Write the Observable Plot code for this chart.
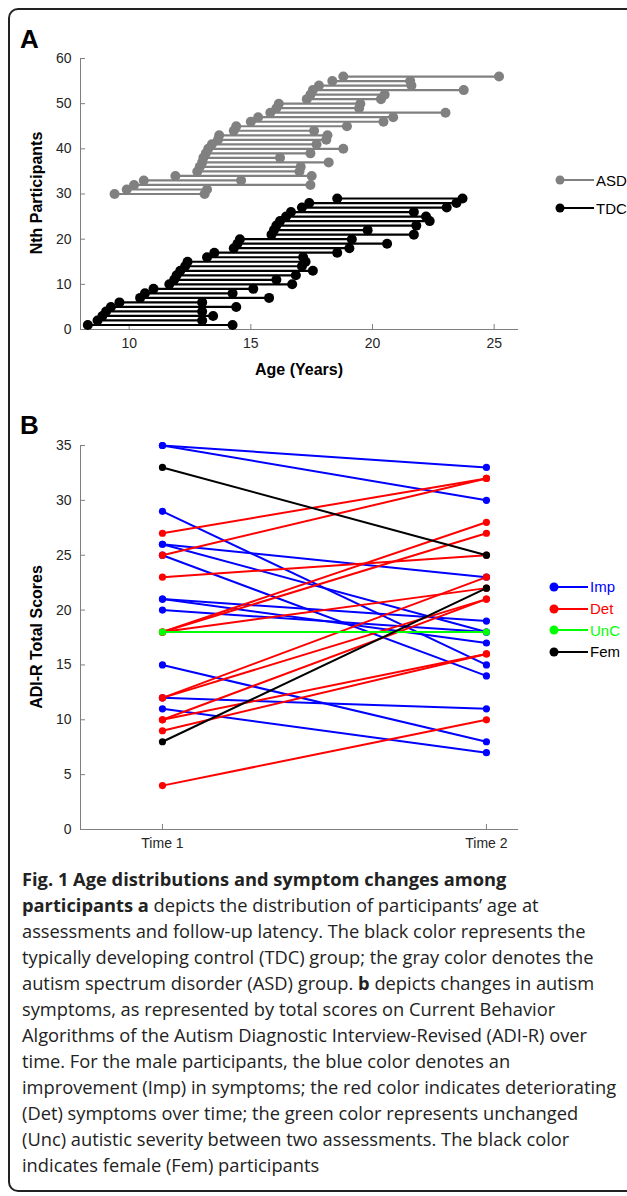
<!DOCTYPE html>
<html><head><meta charset="utf-8">
<script src="https://cdn.jsdelivr.net/npm/d3@7"></script>
<script src="https://cdn.jsdelivr.net/npm/@observablehq/plot@0.6"></script>
<style>
body{margin:0;background:#fff;}
#fig{position:relative;width:627px;height:1196px;overflow:hidden;font-family:"Liberation Sans",Arial,sans-serif;background:#fff;}
#frame{position:absolute;left:8px;top:8px;width:640px;height:1180px;border:2px solid #222;border-radius:10px;}
.panel{position:absolute;left:0;}
.plab{position:absolute;font-weight:bold;font-size:26px;color:#000;}
.alab{position:absolute;font-weight:bold;font-size:16px;color:#000;white-space:nowrap;transform:translate(-50%,-50%);}
.alab.rot{transform:translate(-50%,-50%) rotate(-90deg);}
.legend{position:absolute;font-size:15px;color:#000;}
.legend .it{display:flex;align-items:center;}
.legend svg{margin-right:2px;}
#caption{position:absolute;left:22px;top:866px;white-space:nowrap;font-family:"Open Sans",sans-serif;font-size:18.3px;line-height:26px;color:#222;}
svg text{font-family:"Liberation Sans",Arial,sans-serif;}
</style>
</head><body>
<div id="fig">
  <div id="frame"></div>
  <div class="plab" style="left:20px;top:24px;">A</div>
  <div class="plab" style="left:20px;top:410px;">B</div>
  <div id="pa" class="panel" style="top:0;"></div>
  <div id="pb" class="panel" style="top:395px;"></div>
  <div class="alab rot" style="left:37px;top:193px;">Nth Participants</div>
  <div class="alab" style="left:299px;top:370px;">Age (Years)</div>
  <div class="alab rot" style="left:37px;top:637px;">ADI-R Total Scores</div>
  <div id="legA" class="legend" style="left:552px;top:166px;"></div>
  <div id="legB" class="legend" style="left:546px;top:576px;"></div>
  <div id="caption"><b>Fig. 1 Age distributions and symptom changes among</b><br><b>participants a</b> depicts the distribution of participants’ age at<br>assessments and follow-up latency. The black color represents the<br>typically developing control (TDC) group; the gray color denotes the<br>autism spectrum disorder (ASD) group. <b>b</b> depicts changes in autism<br>symptoms, as represented by total scores on Current Behavior<br>Algorithms of the Autism Diagnostic Interview-Revised (ADI-R) over<br>time. For the male participants, the blue color denotes an<br>improvement (Imp) in symptoms; the red color indicates deteriorating<br>(Det) symptoms over time; the green color represents unchanged<br>(Unc) autistic severity between two assessments. The black color<br>indicates female (Fem) participants</div>
</div>
<script>
// ---------- Panel A data ----------
const groups = ["ASD", "TDC"];
const groupColors = ["#808080", "#000000"];
const tdcStart = [8.3, 8.7, 8.9, 9.05, 9.25, 9.6, 10.45, 10.65, 11.0, 11.65, 11.85, 11.95, 12.1, 12.3, 12.4, 13.2, 13.5, 14.3, 14.45, 14.55, 15.85, 15.95, 16.05, 16.2, 16.45, 16.65, 17.1, 17.4, 18.55];
const tdcEnd   = [14.25, 13.0, 13.45, 13.0, 14.4, 13.0, 15.75, 14.25, 15.1, 16.7, 16.05, 16.85, 17.55, 17.1, 17.25, 17.15, 18.55, 19.05, 20.6, 19.15, 21.7, 19.8, 21.8, 22.35, 22.2, 21.7, 23.05, 23.45, 23.7];
const asdStart = [9.4, 9.9, 10.2, 10.6, 11.9, 12.8, 12.9, 13.0, 13.05, 13.15, 13.25, 13.4, 13.65, 13.7, 14.3, 14.4, 15.0, 15.3, 15.8, 16.05, 16.15, 17.3, 17.45, 17.55, 17.8, 18.35, 18.8];
const asdEnd   = [13.1, 13.2, 17.45, 14.6, 17.5, 17.0, 17.05, 18.2, 16.2, 17.45, 18.8, 17.7, 18.1, 18.15, 17.6, 18.95, 20.45, 20.85, 23.0, 19.45, 19.5, 20.35, 20.5, 23.75, 21.6, 21.55, 25.2];
const ageTicks = [10, 15, 20, 25];
const nthTicks = [0, 10, 20, 30, 40, 50, 60];

// ---------- Panel B data ----------
const changeCats = ["Imp", "Det", "UnC", "Fem"];
const changeColors = ["#0000ff", "#ff0000", "#00ff00", "#000000"];
const impT1 = [35, 35, 29, 26, 26, 25, 21, 21, 20, 15, 12, 11];
const impT2 = [33, 30, 15, 23, 18, 14, 19, 17, 18, 8, 11, 7];
const detT1 = [27, 25, 23, 18, 18, 18, 12, 12, 10, 10, 9, 4];
const detT2 = [32, 32, 25, 28, 27, 22, 23, 21, 21, 16, 16, 10];
const uncT1 = [18];
const uncT2 = [18];
const femT1 = [33, 8];
const femT2 = [25, 22];
const timeTicks = [1, 2];
const timeLabels = ["Time 1", "Time 2"];
const scoreTicks = [0, 5, 10, 15, 20, 25, 30, 35];

// build tables
const rowsA = [];
tdcStart.forEach((s, i) => rowsA.push({group: "TDC", n: i + 1, start: s, end: tdcEnd[i]}));
asdStart.forEach((s, i) => rowsA.push({group: "ASD", n: tdcStart.length + i + 1, start: s, end: asdEnd[i]}));

const rowsB = [];
[[impT1, impT2, "Imp"], [detT1, detT2, "Det"], [uncT1, uncT2, "UnC"], [femT1, femT2, "Fem"]].forEach(([a, b, c]) => {
  a.forEach((v, i) => rowsB.push({cat: c, t1: v, t2: b[i]}));
});
const ptsB = rowsB.flatMap(d => [{cat: d.cat, t: timeTicks[0], v: d.t1}, {cat: d.cat, t: timeTicks[1], v: d.t2}]);

const axisGray = "#7f7f7f";

// ---------- Panel A ----------
const plotA = Plot.plot({
  width: 627, height: 395,
  marginLeft: 80, marginRight: 109, marginTop: 58, marginBottom: 66,
  style: {fontSize: "14px", color: "#262626", background: "transparent"},
  x: {domain: [8, 26]},
  y: {domain: [0, 60]},
  color: {domain: groups, range: groupColors},
  marks: [
    Plot.ruleX([8], {stroke: axisGray}),
    Plot.ruleY([0], {stroke: axisGray}),
    Plot.axisX({ticks: ageTicks, tickSize: -5, tickPadding: 14, stroke: axisGray, label: null}),
    Plot.axisY({ticks: nthTicks, tickSize: -5, tickPadding: 14, stroke: axisGray, label: null}),
    Plot.link(rowsA, {x1: "start", x2: "end", y1: "n", y2: "n", stroke: "group", strokeWidth: 2.2}),
    Plot.dot(rowsA, {x: "start", y: "n", fill: "group", r: 5}),
    Plot.dot(rowsA, {x: "end", y: "n", fill: "group", r: 5})
  ]
});
document.getElementById("pa").appendChild(plotA);

// ---------- Panel B ----------
const plotB = Plot.plot({
  width: 627, height: 466,
  marginLeft: 80, marginRight: 109, marginTop: 50, marginBottom: 32,
  style: {fontSize: "14px", color: "#262626", background: "transparent"},
  x: {domain: [0.747, 2.099]},
  y: {domain: [0, 35]},
  color: {domain: changeCats, range: changeColors},
  marks: [
    Plot.ruleX([0.747], {stroke: axisGray}),
    Plot.ruleY([0], {stroke: axisGray}),
    Plot.axisX({ticks: timeTicks, tickFormat: (d, i) => timeLabels[i], tickSize: -5, tickPadding: 14, stroke: axisGray, label: null}),
    Plot.axisY({ticks: scoreTicks, tickSize: -5, tickPadding: 14, stroke: axisGray, label: null}),
    Plot.link(rowsB, {x1: () => timeTicks[0], x2: () => timeTicks[1], y1: "t1", y2: "t2", stroke: "cat", strokeWidth: 2}),
    Plot.dot(ptsB, {x: "t", y: "v", fill: "cat", r: 3.6})
  ]
});
document.getElementById("pb").appendChild(plotB);

// ---------- legends ----------
function legend(el, names, colors, textColors, rowH) {
  const root = d3.select(el);
  names.forEach((nm, i) => {
    const it = root.append("div").attr("class", "it").style("height", rowH + "px");
    const s = it.append("svg").attr("width", 42).attr("height", 12);
    s.append("line").attr("x1", 4).attr("x2", 42).attr("y1", 6).attr("y2", 6).attr("stroke", colors[i]).attr("stroke-width", 2);
    s.append("circle").attr("cx", 8).attr("cy", 6).attr("r", 4.5).attr("fill", colors[i]);
    it.append("span").text(nm).style("color", textColors[i]);
  });
}
legend("#legA", groups, groupColors, ["#000", "#000"], 28);
legend("#legB", changeCats, changeColors, changeColors, 21.7);
</script>
</body></html>
